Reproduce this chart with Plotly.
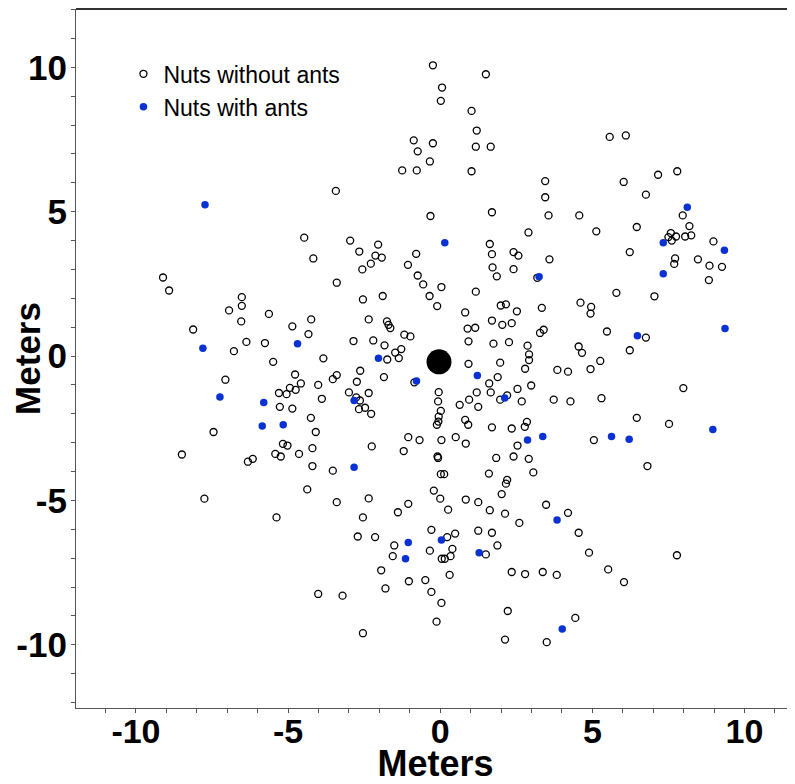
import plotly.graph_objects as go

# Nuts without ants (open circles), positions in meters
x_without = [
    -0.24, 0.06, 0.02, -0.87, -0.24, -0.74, -0.34, -1.25, -0.77, -3.43,
    -0.32, -4.47, -2.96, -2.66, -2.04, -2.13, -1.92, -2.28, -2.56, -0.79,
    -1.06, -4.17, -9.11, -8.91, -3.40, -0.74, -0.56, -0.35, -0.10, 0.04,
    -2.54, -1.89, -6.52, -6.52, -6.94, -6.54, -5.63, -8.12, -4.24, -4.86,
    -4.33, -2.35, -1.75, -1.70, -1.64, -1.18, -0.98, -6.78, -6.37, -5.76,
    -5.49, -3.84, -2.85, -2.20, -1.83, -1.48, -1.28, -1.74, -1.36, -2.63,
    -7.06, -4.77, -4.58, -4.75, -4.94, -5.30, -5.05, -5.27, -4.86, -4.01,
    -3.89, -3.53, -3.40, -2.74, -3.00, -2.76, -2.64, -2.67, -2.47, -2.27,
    -2.35, -1.85, -0.85, -4.25, -4.09, -7.45, -8.49, -6.32, -6.16, -5.42,
    -5.24, -5.17, -5.02, -4.64, -4.20, -4.20, -3.53, -2.25, -1.05, -0.68,
    -1.20, -0.21, -4.37, -7.75, -3.40, -2.35, -2.54, -1.39, -1.05, -5.38,
    -2.71, -2.14, -1.51, -1.56, -0.29, -0.34, -1.94, -1.80, -1.03, -0.49,
    -0.29, -0.12, -4.01, -3.21, -2.54,
    -0.05, -0.07, 0.02, -0.05, -0.06, -0.11, 0.04, -0.07, -0.09, 0.02,
    0.13, 0.00, 0.26, 0.23, 0.49, 0.40, 0.34, 0.05, 0.15, 0.31,
    0.04,
    0.93, 1.75, 2.26, 2.87, 4.55, 4.66, 6.23, 6.76, 2.92, 2.92,
    0.93, 1.97, 2.79, 3.85, 4.20, 4.94, 5.26, 1.89, 1.61, 1.66,
    1.20, 0.95, 1.25, 0.64, 0.82, 0.92, 1.97, 2.20, 2.54, 2.99,
    2.68, 3.73, 4.28, 5.30, 7.99, 6.46, 7.52, 1.70, 2.35, 2.85,
    2.78, 2.54, 0.51, 0.84, 5.05, 6.81, 1.84, 2.41, 2.91, 3.06,
    1.60, 2.20, 2.16, 2.02, 0.84, 1.25, 1.63, 2.13, 2.60, 3.48,
    4.20, 4.55, 4.89, 7.78, 5.52, 6.04, 1.25, 1.70, 1.88, 1.50,
    2.35, 2.79, 3.37, 3.83, 2.22, 2.13, 3.50, 4.44,
    1.50, 1.03, 1.20, 1.17, 1.66, 1.03, 5.57, 6.10, 7.16, 7.79,
    6.03, 6.76, 3.45, 3.45, 3.56, 4.57, 1.70, 7.97, 8.19, 7.58,
    7.50, 7.61, 7.75, 8.05, 8.25, 8.98, 2.90, 5.13, 6.46, 1.63,
    1.70, 2.41, 2.57, 1.72, 1.86, 2.41, 3.59, 3.19, 6.23, 7.72,
    7.69, 8.47, 8.85, 9.26, 8.83, 7.04, 5.79, 1.17, 0.82, 0.90,
    1.15, 1.70, 2.04, 2.35, 1.99, 2.16, 2.52, 3.34, 3.40, 3.28,
    4.61, 4.96, 4.94, 5.48,
]
y_without = [
    10.07, 9.30, 8.84, 7.47, 7.37, 7.09, 6.74, 6.43, 6.43, 5.72,
    4.85, 4.10, 4.00, 3.62, 3.86, 3.48, 3.41, 3.20, 3.00, 3.54,
    3.16, 3.38, 2.72, 2.27, 2.54, 2.79, 2.48, 2.08, 1.73, 2.39,
    1.96, 2.08, 2.04, 1.74, 1.58, 1.20, 1.46, 0.92, 1.27, 1.03,
    0.76, 1.27, 1.20, 1.08, 0.97, 0.74, 0.68, 0.17, 0.49, 0.45,
    -0.20, -0.08, 0.52, 0.54, 0.37, 0.12, 0.24, -0.12, -0.07, -0.51,
    -0.82, -0.64, -0.95, -1.17, -1.10, -1.28, -1.32, -1.76, -1.82, -1.00,
    -1.48, -0.80, -0.66, -0.89, -1.26, -1.43, -1.54, -1.84, -1.79, -2.00,
    -1.28, -0.73, -0.91, -2.14, -2.63, -2.63, -3.41, -3.66, -3.56, -3.39,
    -3.48, -3.04, -3.10, -3.39, -3.19, -3.81, -3.97, -3.13, -2.81, -2.91,
    -3.29, -4.66, -4.62, -4.94, -5.06, -4.93, -5.59, -5.41, -5.12, -5.59,
    -6.25, -6.27, -6.56, -6.93, -6.02, -6.74, -7.42, -8.05, -7.80, -7.76,
    -8.17, -9.20, -8.24, -8.30, -9.60,
    -1.25, -1.57, -1.90, -2.10, -2.27, -2.38, -2.91, -3.53, -3.48, -4.09,
    -4.09, -4.94, -5.32, -6.27, -6.15, -6.68, -6.93, -7.02, -7.02, -7.58,
    -8.55,
    0.51, 0.43, 0.48, 0.36, 0.33, 0.11, 0.20, 0.64, 0.06, -0.14,
    -0.27, -0.23, -0.44, -0.48, -0.54, -0.45, -0.17, -0.73, -0.95, -1.26,
    -1.26, -1.51, -1.76, -1.69, -2.21, -2.38, -1.51, -1.36, -1.14, -1.02,
    -1.57, -1.51, -1.57, -1.46, -1.11, -2.14, -2.35, -2.47, -2.51, -2.28,
    -2.45, -3.10, -2.81, -3.03, -2.91, -3.81, -3.53, -3.48, -3.56, -4.03,
    -4.07, -4.29, -4.42, -4.78, -4.97, -5.06, -5.34, -5.46, -5.78, -5.15,
    -5.43, -6.12, -6.81, -6.90, -7.39, -7.83, -6.05, -6.12, -6.56, -6.87,
    -7.48, -7.55, -7.48, -7.58, -8.83, -9.82, -9.91, -9.07,
    9.76, 8.49, 7.81, 7.25, 7.25, 6.40, 7.59, 7.64, 6.28, 6.40,
    6.03, 5.59, 6.06, 5.50, 4.87, 4.87, 4.98, 4.87, 4.50, 4.26,
    4.12, 4.00, 4.14, 4.14, 4.18, 3.97, 4.28, 4.32, 4.47, 3.88,
    3.53, 3.60, 3.48, 3.07, 2.76, 3.01, 3.35, 2.71, 3.60, 3.38,
    3.19, 3.35, 3.13, 3.09, 2.63, 2.07, 2.19, 2.23, 1.51, 0.95,
    0.98, 1.23, 1.08, 1.14, 1.75, 1.79, 1.55, 1.67, 0.91, 0.80,
    1.85, 1.70, 1.47, 0.85,
]

# Nuts with ants (filled blue)
x_with = [
    -7.73, -7.80, -4.69, -2.03, -0.78, -7.24, -5.80, -2.83, -5.85, -5.16,
    -2.83, -1.05, -1.14, 0.04, 1.22, 2.12, 2.87, 3.37, 5.63, 6.21,
    8.96, 3.84, 1.28, 4.01, 0.15, 3.25, 8.12, 7.33, 9.34, 7.33,
    6.48, 9.36,
]
y_with = [
    5.24, 0.27, 0.43, -0.08, -0.86, -1.42, -1.61, -1.54, -2.42, -2.38,
    -3.85, -6.46, -7.02, -6.37, -0.67, -1.45, -2.91, -2.79, -2.79, -2.88,
    -2.54, -5.68, -6.81, -9.45, 3.92, 2.75, 5.15, 3.92, 3.66, 2.85,
    0.70, 0.95,
]

# Central tree
x_tree = [-0.04]
y_tree = [-0.2]

tick_vals = [-10, -5, 0, 5, 10]
tick_text = ["-10", "-5", "0", "5", "10"]

FONT = "Liberation Sans, Arial, sans-serif"

fig = go.Figure()
fig.add_trace(go.Scatter(
    x=x_without, y=y_without, mode="markers", name="Nuts without ants",
    legendgroup="a",
    marker=dict(symbol="circle-open", size=7, color="black",
                line=dict(width=1.3, color="black")),
))
fig.add_trace(go.Scatter(
    x=x_with, y=y_with, mode="markers", name="Nuts with ants",
    legendgroup="b",
    marker=dict(symbol="circle", size=7.5, color="#0a32d2"),
))
fig.add_trace(go.Scatter(
    x=x_tree, y=y_tree, mode="markers", showlegend=False,
    marker=dict(symbol="circle", size=25, color="black"),
))

def axis_common(size):
    return dict(
        showgrid=False, zeroline=False, showline=True, linewidth=1.2,
        linecolor="#555555", ticks="outside", ticklen=4, tickwidth=1,
        tickcolor="#555555",
        tickvals=tick_vals, ticktext=tick_text,
        tickfont=dict(family=FONT, size=size, color="black", weight="bold"),
        minor=dict(dtick=1, tick0=0, ticks="outside", ticklen=4,
                   tickcolor="#555555", tickwidth=1),
    )

# page body has an 8px margin: figure is offset by (8, 8)
fig.update_layout(
    width=787, height=776,
    margin=dict(l=68, r=0, t=1, b=76, autoexpand=False),
    plot_bgcolor="white", paper_bgcolor="white",
    showlegend=True,
    legend=dict(
        x=0.066, y=0.938, xanchor="left", yanchor="top",
        bgcolor="rgba(0,0,0,0)", borderwidth=0,
        font=dict(family=FONT, size=23, color="black"),
        traceorder="grouped", tracegroupgap=0, itemwidth=30,
    ),
    xaxis=dict(
        range=[-11.97, 11.66],
        ticklabelstandoff=-11,
        title=dict(text="Meters", standoff=7,
                   font=dict(family=FONT, size=36, color="black", weight="bold")),
        **axis_common(34),
    ),
    yaxis=dict(
        range=[-12.19, 12.02],
        ticklabelstandoff=-3,
        title=dict(text="Meters", standoff=2,
                   font=dict(family=FONT, size=35, color="black", weight="bold")),
        **axis_common(35),
    ),
    shapes=[dict(type="line", xref="paper", yref="paper", x0=0, x1=1,
                 y0=1, y1=1, line=dict(color="#333333", width=2))],
)

fig.write_html("out.html")
